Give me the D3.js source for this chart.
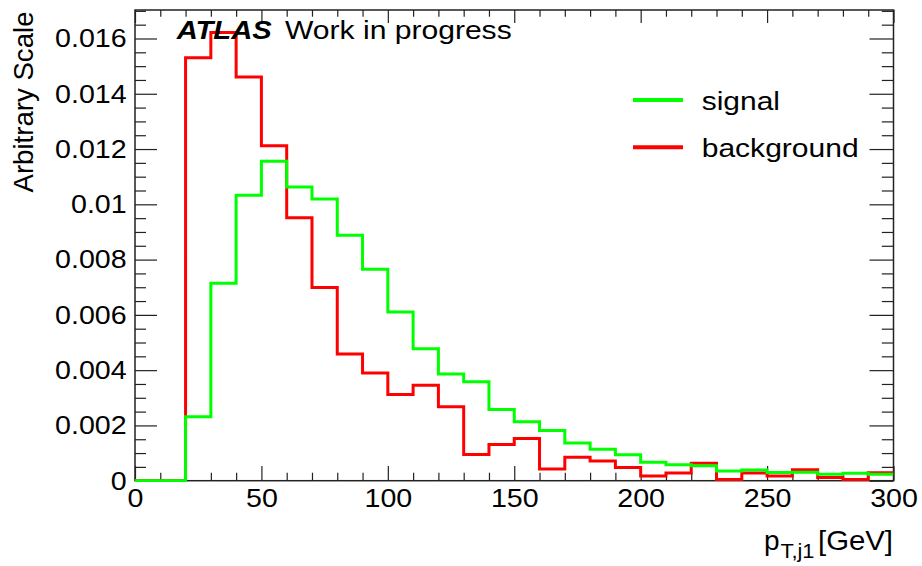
<!DOCTYPE html>
<html>
<head>
<meta charset="utf-8">
<script src="https://cdn.jsdelivr.net/npm/d3@7"></script>
<style>
  html, body { margin: 0; padding: 0; background: #fff; }
  svg { display: block; }
  text { font-family: "Liberation Sans", Arial, Helvetica, sans-serif; fill: #000; }
</style>
</head>
<body>
<svg id="chart" width="922" height="566"></svg>
<script>
// Leading-jet pT distributions, 10 GeV bins from 0 to 300 GeV (normalised)
const binEdges = d3.range(0, 301, 10);
const signal = [
  0, 0, 0.00231, 0.00714, 0.01033, 0.01156, 0.01063, 0.01019, 0.00888, 0.00765,
  0.00610, 0.00477, 0.00386, 0.00358, 0.00258, 0.00213, 0.00182, 0.00136, 0.00114, 0.00094,
  0.00067, 0.00058, 0.00054, 0.00035, 0.00039, 0.00030, 0.00031, 0.00023, 0.00027, 0.00023
];
const background = [
  0, 0, 0.01530, 0.01622, 0.01461, 0.01212, 0.00951, 0.00699, 0.00458, 0.00390,
  0.00312, 0.00345, 0.00268, 0.00095, 0.00131, 0.00153, 0.00042, 0.00085, 0.00071, 0.00048,
  0.00017, 0.00028, 0.00063, 0.00004, 0.00028, 0.00017, 0.00040, 0.00012, 0.00004, 0.00029
];
const seriesNames = ["signal", "background"];
const seriesColors = ["#00ff00", "#ff0000"];

const xTickValues = [0, 50, 100, 150, 200, 250, 300];
const xTickLabels = ["0", "50", "100", "150", "200", "250", "300"];
const yTickValues = [0, 0.002, 0.004, 0.006, 0.008, 0.010, 0.012, 0.014, 0.016];
const yTickLabels = ["0", "0.002", "0.004", "0.006", "0.008", "0.01", "0.012", "0.014", "0.016"];
const xMinorStep = 10;
const yMinorStep = 0.0005;

const xTitleMain = "p";
const xTitleSub = "T,j1";
const xTitleUnit = "[GeV]";
const yTitle = "Arbitrary Scale";

// ---- layout ----
const W = 922, H = 566;
const frame = { left: 135, right: 893.5, top: 10, bottom: 480.7 };
const yMax = d3.max(background.concat(signal)) * 1.05;

const x = d3.scaleLinear().domain([0, 300]).range([frame.left, frame.right]);
const y = d3.scaleLinear().domain([0, yMax]).range([frame.bottom, frame.top]);

const svg = d3.select("#chart");
const fontSize = 26;

svg.append("defs").append("clipPath").attr("id", "plotClip")
  .append("rect")
  .attr("x", frame.left).attr("y", frame.top)
  .attr("width", frame.right - frame.left).attr("height", frame.bottom - frame.top + 1.2);

// ---- frame (drawn first so the histogram outlines sit on top of it) ----
svg.append("rect")
  .attr("x", frame.left).attr("y", frame.top)
  .attr("width", frame.right - frame.left).attr("height", frame.bottom - frame.top)
  .attr("fill", "none").attr("stroke", "#222").attr("stroke-width", 1.5);

// ---- axes (ticks on all four sides, pointing inwards) ----
const tickColor = "#222";
const xMinor = d3.range(0, 301, xMinorStep).filter(v => v % 50 !== 0);
const yMinor = d3.range(0, yMax, yMinorStep).filter(v => Math.abs(v / 0.002 - Math.round(v / 0.002)) > 1e-6);

function styleAxis(g) {
  g.select(".domain").remove();
  g.selectAll(".tick line").attr("stroke", tickColor).attr("stroke-width", 1.2);
}

// bottom
svg.append("g").attr("transform", `translate(0,${frame.bottom})`)
  .call(d3.axisBottom(x).tickValues(xTickValues).tickSizeInner(-14.7).tickSizeOuter(0)
    .tickPadding(7.5).tickFormat((d, i) => xTickLabels[i]))
  .call(styleAxis)
  .call(g => g.selectAll(".tick text")
    .attr("font-size", fontSize).attr("font-family", null)
    .attr("transform", "scale(1.1,1)"));
svg.append("g").attr("transform", `translate(0,${frame.bottom})`)
  .call(d3.axisBottom(x).tickValues(xMinor).tickSizeInner(-8).tickSizeOuter(0).tickFormat(""))
  .call(styleAxis);

// top
svg.append("g").attr("transform", `translate(0,${frame.top})`)
  .call(d3.axisTop(x).tickValues(xTickValues).tickSizeInner(-13).tickSizeOuter(0).tickFormat(""))
  .call(styleAxis);
svg.append("g").attr("transform", `translate(0,${frame.top})`)
  .call(d3.axisTop(x).tickValues(xMinor).tickSizeInner(-6.7).tickSizeOuter(0).tickFormat(""))
  .call(styleAxis);

// left
svg.append("g").attr("transform", `translate(${frame.left},0)`)
  .call(d3.axisLeft(y).tickValues(yTickValues).tickSizeInner(-22).tickSizeOuter(0)
    .tickPadding(7.6).tickFormat((d, i) => yTickLabels[i]))
  .call(styleAxis)
  .call(g => g.selectAll(".tick text")
    .attr("font-size", fontSize).attr("font-family", null)
    .attr("transform", "scale(1.1,1)"));
svg.append("g").attr("transform", `translate(${frame.left},0)`)
  .call(d3.axisLeft(y).tickValues(yMinor).tickSizeInner(-11).tickSizeOuter(0).tickFormat(""))
  .call(styleAxis);

// right
svg.append("g").attr("transform", `translate(${frame.right},0)`)
  .call(d3.axisRight(y).tickValues(yTickValues).tickSizeInner(-24).tickSizeOuter(0).tickFormat(""))
  .call(styleAxis);
svg.append("g").attr("transform", `translate(${frame.right},0)`)
  .call(d3.axisRight(y).tickValues(yMinor).tickSizeInner(-11.7).tickSizeOuter(0).tickFormat(""))
  .call(styleAxis);

// ---- histograms (step outlines) ----
const step = d3.line()
  .x(d => x(d[0]))
  .y(d => y(d[1]))
  .curve(d3.curveStepAfter);

function outline(values) {
  const pts = values.map((v, i) => [binEdges[i], v]);
  pts.push([binEdges[binEdges.length - 1], values[values.length - 1]]);
  return pts;
}

const hists = [
  { name: "background", values: background, color: seriesColors[1] },
  { name: "signal", values: signal, color: seriesColors[0] }
];

svg.append("g").attr("clip-path", "url(#plotClip)")
  .selectAll("path.hist")
  .data(hists)
  .join("path")
  .attr("class", "hist")
  .attr("d", d => step(outline(d.values)))
  .attr("fill", "none")
  .attr("stroke", d => d.color)
  .attr("stroke-width", 3)
  .attr("stroke-linejoin", "miter");

// ---- axis titles ----
const xt = svg.append("g");
xt.append("text").attr("x", 764).attr("y", 550).attr("font-size", 28).text(xTitleMain);
xt.append("text").attr("x", 780.5).attr("y", 558).attr("font-size", 20)
  .attr("textLength", 34).attr("lengthAdjust", "spacingAndGlyphs").text(xTitleSub);
xt.append("text").attr("x", 818).attr("y", 550).attr("font-size", 28)
  .attr("textLength", 75).attr("lengthAdjust", "spacingAndGlyphs").text(xTitleUnit);

svg.append("text")
  .attr("transform", "translate(33.3,11.5) rotate(-90)")
  .attr("text-anchor", "end")
  .attr("font-size", 28)
  .attr("textLength", 181).attr("lengthAdjust", "spacingAndGlyphs")
  .text(yTitle);

// ---- experiment label ----
svg.append("text").attr("x", 176.7).attr("y", 39.3).attr("font-size", 25)
  .attr("font-weight", "bold").attr("font-style", "italic")
  .attr("textLength", 95).attr("lengthAdjust", "spacingAndGlyphs").text("ATLAS");
svg.append("text").attr("x", 285).attr("y", 39.3).attr("font-size", 25)
  .attr("textLength", 226.7).attr("lengthAdjust", "spacingAndGlyphs").text("Work in progress");

// ---- legend ----
const legendRows = [
  { name: seriesNames[0], color: seriesColors[0], cy: 100, len: 78.3 },
  { name: seriesNames[1], color: seriesColors[1], cy: 147.3, len: 157 }
];
const lg = svg.append("g").selectAll("g").data(legendRows).join("g");
lg.append("line")
  .attr("x1", 633).attr("x2", 683)
  .attr("y1", d => d.cy).attr("y2", d => d.cy)
  .attr("stroke", d => d.color).attr("stroke-width", 4);
lg.append("text")
  .attr("x", 701.7).attr("y", d => d.cy + 9.7)
  .attr("font-size", 26)
  .attr("textLength", d => d.len).attr("lengthAdjust", "spacingAndGlyphs")
  .text(d => d.name);
</script>
</body>
</html>
